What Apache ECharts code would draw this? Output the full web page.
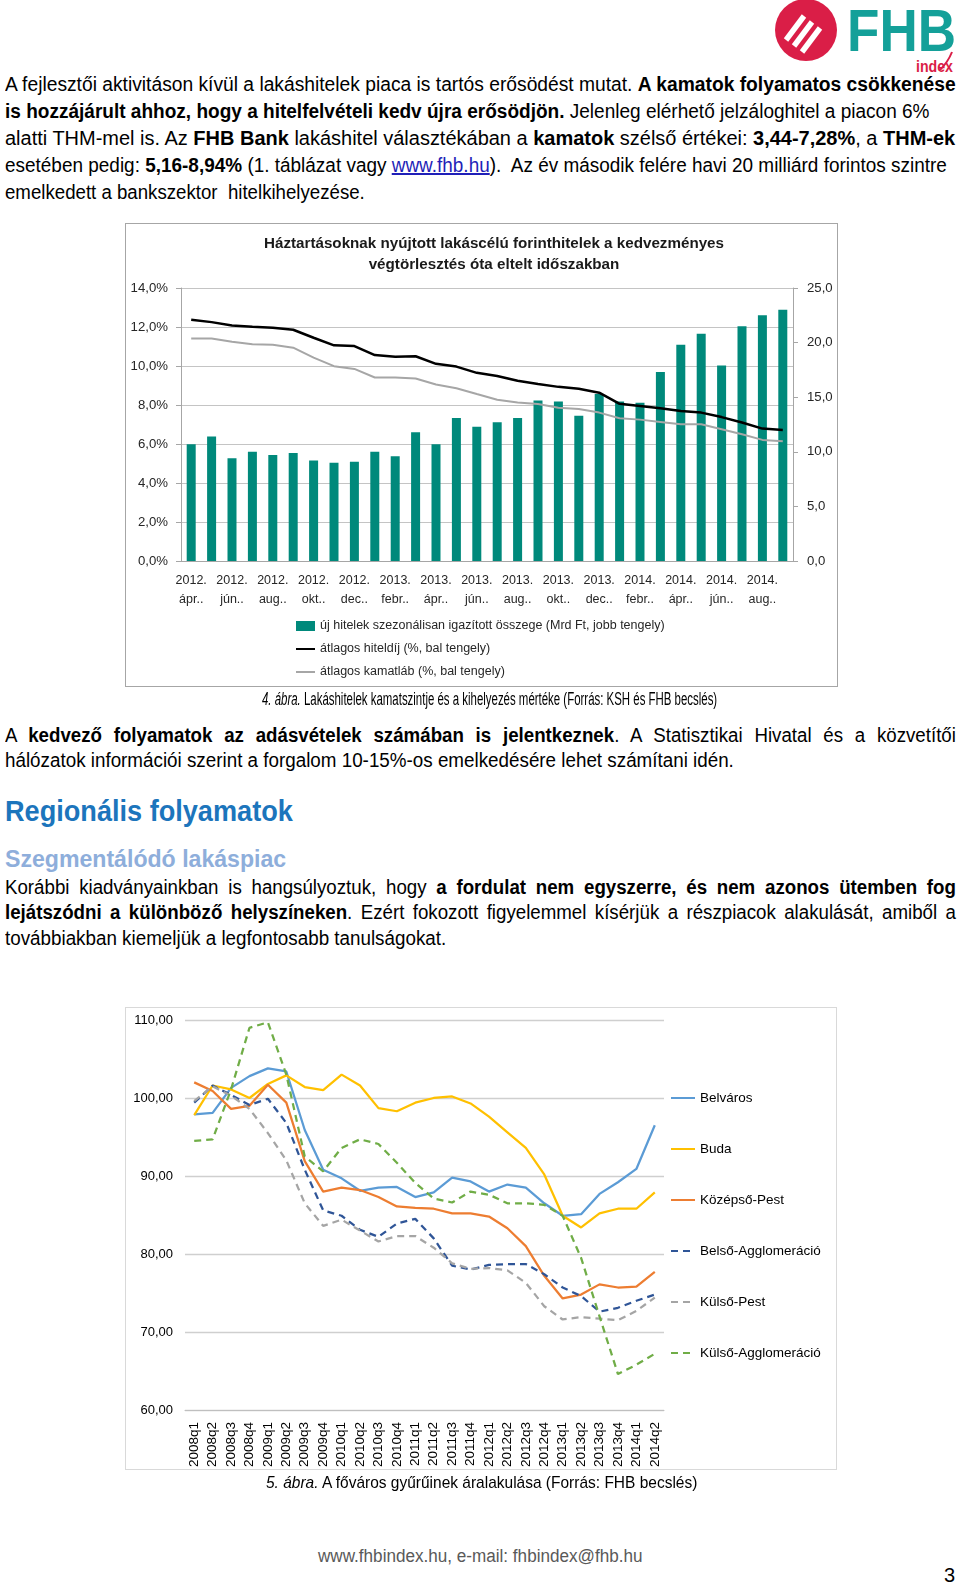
<!DOCTYPE html>
<html><head><meta charset="utf-8">
<script src="https://cdn.jsdelivr.net/npm/echarts@6/dist/echarts.min.js"></script>
<style>
html,body{margin:0;padding:0;background:#fff;}
body{width:960px;height:1592px;position:relative;overflow:hidden;font-family:'Liberation Sans',Arial,sans-serif;color:#000;}
.ln{position:absolute;left:5px;white-space:nowrap;font-size:20px;line-height:26px;height:26px;transform-origin:0 50%;transform:scaleX(0.935);}
.j{width:1017px;text-align:justify;text-align-last:justify;}
.fit{position:absolute;white-space:nowrap;transform-origin:0 50%;}
a{color:#1f1fb8;text-decoration:underline;}
.box{position:absolute;box-sizing:border-box;}
</style></head>
<body>
<svg style="position:absolute;left:760px;top:0" width="200" height="80" viewBox="0 0 200 80">
  <circle cx="46" cy="30" r="31" fill="#DA1E47"/>
  <g stroke="#fff" stroke-width="5.5" stroke-linecap="butt">
    <line x1="26" y1="40" x2="44" y2="16"/>
    <line x1="34" y1="46" x2="52" y2="22"/>
    <line x1="42" y1="52" x2="60" y2="28"/>
  </g>
  <text x="87" y="51" font-family="Liberation Sans, Arial, sans-serif" font-weight="bold" font-size="60" fill="#14A099" textLength="109" lengthAdjust="spacingAndGlyphs">FHB</text>
  <text x="156" y="72" font-family="Liberation Sans, Arial, sans-serif" font-weight="bold" font-size="16" fill="#DA1E47" textLength="37" lengthAdjust="spacingAndGlyphs">index</text>
  <path d="M180 70 Q188 62 192 52" stroke="#DA1E47" stroke-width="2" fill="none"/>
</svg>

<div class="ln fitw" data-w="951" style="top:71px">A fejlesztői aktivitáson kívül a lakáshitelek piaca is tartós erősödést mutat. <b>A kamatok folyamatos csökkenése</b></div>
<div class="ln fitw" data-w="925" style="top:98px"><b>is hozzájárult ahhoz, hogy a hitelfelvételi kedv újra erősödjön.</b> Jelenleg elérhető jelzáloghitel a piacon 6%</div>
<div class="ln fitw" data-w="950" style="top:125px">alatti THM-mel is. Az <b>FHB Bank</b> lakáshitel választékában a <b>kamatok</b> szélső értékei: <b>3,44-7,28%</b>, a <b>THM-ek</b></div>
<div class="ln fitw" data-w="942" style="top:152px">esetében pedig: <b>5,16-8,94%</b> (1. táblázat vagy <a>www.fhb.hu</a>).&nbsp; Az év második felére havi 20 milliárd forintos szintre</div>
<div class="ln fitw" data-w="360" style="top:179px">emelkedett a bankszektor&nbsp; hitelkihelyezése.</div>

<div id="c1" class="box" style="left:125px;top:223px;width:713px;height:464px;"></div>
<div class="box" style="left:125px;top:223px;width:713px;height:464px;border:1px solid #A6A6A6;pointer-events:none;"></div>

<div class="fit fitw" data-w="455" style="left:262px;top:688px;font-size:18px;line-height:22px;"><i>4. ábra.</i> Lakáshitelek kamatszintje és a kihelyezés mértéke (Forrás: KSH és FHB becslés)</div>

<div class="ln j" style="top:722px">A <b>kedvező folyamatok az adásvételek számában is jelentkeznek</b>. A Statisztikai Hivatal és a közvetítői</div>
<div class="ln fitw" data-w="729" style="top:747px">hálózatok információi szerint a forgalom 10-15%-os emelkedésére lehet számítani idén.</div>

<div class="ln fitw" data-w="288" style="top:795px;height:32px;line-height:32px;font-size:29px;font-weight:bold;color:#1C75BC;">Regionális folyamatok</div>
<div class="ln fitw" data-w="281" style="top:845px;height:28px;line-height:28px;font-size:24.5px;font-weight:bold;color:#8EAEDB;">Szegmentálódó lakáspiac</div>

<div class="ln j" style="top:874px">Korábbi kiadványainkban is hangsúlyoztuk, hogy <b>a fordulat nem egyszerre, és nem azonos ütemben fog</b></div>
<div class="ln j" style="top:899px"><b>lejátszódni a különböző helyszíneken</b>. Ezért fokozott figyelemmel kísérjük a részpiacok alakulását, amiből a</div>
<div class="ln fitw" data-w="441" style="top:925px">továbbiakban kiemeljük a legfontosabb tanulságokat.</div>

<div id="c2" class="box" style="left:125px;top:1007px;width:712px;height:463px;"></div>
<div class="box" style="left:125px;top:1007px;width:712px;height:463px;border:1px solid #D9D9D9;pointer-events:none;"></div>

<div class="fit fitw" data-w="431" style="left:266px;top:1472px;font-size:17px;line-height:22px;"><i>5. ábra.</i> A főváros gyűrűinek áralakulása (Forrás: FHB becslés)</div>

<div class="fit fitw" data-w="324" style="left:318px;top:1545px;font-size:18px;line-height:22px;color:#595959;">www.fhbindex.hu, e-mail: fhbindex@fhb.hu</div>
<div class="fit" style="left:944px;top:1563px;font-size:20px;line-height:24px;color:#000;">3</div>

<script>
// ---------- Chart 1 data ----------
const months1 = ['2012. ápr.','2012. máj.','2012. jún.','2012. júl.','2012. aug.','2012. szept.','2012. okt.','2012. nov.','2012. dec.',
  '2013. jan.','2013. febr.','2013. márc.','2013. ápr.','2013. máj.','2013. jún.','2013. júl.','2013. aug.','2013. szept.','2013. okt.','2013. nov.','2013. dec.',
  '2014. jan.','2014. febr.','2014. márc.','2014. ápr.','2014. máj.','2014. jún.','2014. júl.','2014. aug.','2014. szept.'];
const ujHitelek = [10.7,11.4,9.4,10.0,9.7,9.9,9.2,9.0,9.1,10.0,9.6,11.8,10.7,13.1,12.3,12.7,13.1,14.7,14.6,13.3,15.3,14.6,14.5,17.3,19.8,20.8,17.9,21.5,22.5,23.0];
const hiteldij = [12.37,12.25,12.08,12.01,11.96,11.86,11.45,11.06,11.02,10.56,10.48,10.50,10.11,9.97,9.65,9.49,9.24,9.08,8.93,8.83,8.63,8.06,7.95,7.83,7.69,7.61,7.38,7.10,6.79,6.72];
const kamatlab = [11.41,11.41,11.24,11.11,11.09,10.94,10.43,9.99,9.85,9.41,9.41,9.36,9.05,8.86,8.56,8.27,8.13,8.05,7.86,7.79,7.61,7.32,7.25,7.13,7.01,7.01,6.76,6.50,6.21,6.14];
const name1 = 'új hitelek szezonálisan igazított összege (Mrd Ft, jobb tengely)';
const name2 = 'átlagos hiteldíj (%, bal tengely)';
const name3 = 'átlagos kamatláb (%, bal tengely)';
const title1 = 'Háztartásoknak nyújtott lakáscélú forinthitelek a kedvezményes\nvégtörlesztés óta eltelt időszakban';

// ---------- Chart 2 data ----------
const quarters = ['2008q1','2008q2','2008q3','2008q4','2009q1','2009q2','2009q3','2009q4','2010q1','2010q2','2010q3','2010q4',
  '2011q1','2011q2','2011q3','2011q4','2012q1','2012q2','2012q3','2012q4','2013q1','2013q2','2013q3','2013q4','2014q1','2014q2'];
const belvaros = [97.9,98.1,101.3,102.8,103.8,103.4,95.9,90.8,89.7,88.1,88.5,88.6,87.3,87.9,89.8,89.3,88.0,88.9,88.5,86.5,84.9,85.1,87.7,89.2,90.9,96.5];
const buda = [97.8,101.6,101.1,100.0,101.8,102.9,101.4,101.0,103.0,101.6,98.7,98.3,99.4,100.0,100.2,99.3,97.6,95.6,93.6,90.2,84.9,83.4,85.2,85.8,85.8,87.9];
const kozepsoPest = [102.0,100.9,98.6,99.0,101.7,99.4,91.9,88.0,88.5,88.2,87.3,86.1,85.9,85.8,85.2,85.2,84.8,83.3,81.0,77.2,74.3,74.8,76.1,75.7,75.8,77.7];
const belsoAggl = [99.4,101.6,100.4,99.1,99.9,96.8,90.8,85.6,84.9,83.1,82.2,83.9,84.5,82.0,78.5,78.0,78.6,78.7,78.7,77.4,75.7,74.6,72.6,73.1,74.0,74.8];
const kulsoPest = [99.6,101.5,100.3,98.6,95.5,92.0,86.5,83.6,84.4,83.0,81.6,82.3,82.3,80.8,78.8,78.1,78.2,77.9,76.3,73.3,71.6,71.9,71.7,71.5,72.7,74.4];
const kulsoAggl = [94.5,94.7,101.1,109.0,109.7,103.0,92.5,90.6,93.6,94.7,94.1,91.7,89.1,87.1,86.6,88.0,87.6,86.5,86.5,86.3,84.9,79.5,72.0,64.6,65.8,67.2];

const SANS = "'Liberation Sans',Arial,sans-serif";
const fmtComma = (v, d) => v.toFixed(d).replace('.', ',');
const noDot = {opacity: 0};

const c1 = echarts.init(document.getElementById('c1'));
c1.setOption({
  animation: false,
  textStyle: {fontFamily: SANS},
  title: {text: title1, left: 364, top: 5, textAlign: 'center',
    textStyle: {fontFamily: SANS, fontSize: 15.2, fontWeight: 'bold', lineHeight: 21.5, color: '#1a1a1a'}},
  grid: {left: 56, top: 65, width: 612, height: 273},
  legend: {orient: 'vertical', left: 170, top: 395, padding: 0, itemWidth: 19, itemHeight: 10, itemGap: 7,
    textStyle: {fontFamily: SANS, fontSize: 12.5, lineHeight: 16, color: '#262626'},
    data: [{name: name1, icon: 'rect'}, {name: name2, itemStyle: noDot}, {name: name3, itemStyle: noDot}]},
  xAxis: {type: 'category', data: months1, boundaryGap: true,
    axisLine: {lineStyle: {color: '#A6A6A6'}},
    axisTick: {interval: 1, length: 5, lineStyle: {color: '#A6A6A6'}},
    axisLabel: {interval: 1, margin: 10, fontSize: 12.5, lineHeight: 19, color: '#262626', fontFamily: SANS,
      formatter: v => v.replace(' ', '\n') + '.'}},
  yAxis: [
    {type: 'value', min: 0, max: 14, interval: 2, position: 'left',
      axisLine: {show: true, lineStyle: {color: '#A6A6A6'}},
      axisTick: {show: true, length: 5, lineStyle: {color: '#A6A6A6'}},
      splitLine: {lineStyle: {color: '#C4C4C4'}},
      axisLabel: {margin: 13, fontSize: 13.2, color: '#262626', fontFamily: SANS, formatter: v => fmtComma(v, 1) + '%'}},
    {type: 'value', min: 0, max: 25, interval: 5, position: 'right',
      axisLine: {show: true, lineStyle: {color: '#A6A6A6'}},
      axisTick: {show: true, length: 5, lineStyle: {color: '#A6A6A6'}},
      splitLine: {show: false},
      axisLabel: {margin: 14, fontSize: 13.2, color: '#262626', fontFamily: SANS, formatter: v => fmtComma(v, 1)}}
  ],
  series: [
    {type: 'bar', name: name1, yAxisIndex: 1, data: ujHitelek, barWidth: 9, itemStyle: {color: '#00897B'}},
    {type: 'line', name: name2, yAxisIndex: 0, data: hiteldij, symbol: 'none', itemStyle: {color: '#000'}, lineStyle: {color: '#000', width: 2.5}},
    {type: 'line', name: name3, yAxisIndex: 0, data: kamatlab, symbol: 'none', itemStyle: {color: '#A6A6A6'}, lineStyle: {color: '#A6A6A6', width: 2}}
  ]
});

const c2 = echarts.init(document.getElementById('c2'));
const dash = [7, 5];
const mk = (name, data, color, type) => ({type: 'line', name, data, symbol: 'none',
  itemStyle: {color}, lineStyle: {color, width: 2.25, type}});
const names2 = ['Belváros','Buda','Középső-Pest','Belső-Agglomeráció','Külső-Pest','Külső-Agglomeráció'];
c2.setOption({
  animation: false,
  textStyle: {fontFamily: SANS},
  grid: {left: 60, top: 13, width: 479, height: 391},
  legend: {orient: 'vertical', left: 545, top: 84, padding: 0, itemWidth: 24, itemHeight: 14, itemGap: 37,
    textStyle: {fontFamily: SANS, fontSize: 13.5, lineHeight: 14, color: '#000'},
    data: names2.map(n => ({name: n, itemStyle: noDot}))},
  xAxis: {type: 'category', data: quarters, boundaryGap: true,
    axisLine: {lineStyle: {color: '#BFBFBF'}},
    axisTick: {length: 5, lineStyle: {color: '#BFBFBF'}},
    axisLabel: {rotate: 90, interval: 0, margin: 12, fontSize: 13.5, color: '#000', fontFamily: SANS}},
  yAxis: {type: 'value', min: 60, max: 110, interval: 10,
    axisLine: {show: false}, axisTick: {show: false},
    splitLine: {lineStyle: {color: '#CFCFCF', width: 1.3}},
    axisLabel: {margin: 12, fontSize: 13, color: '#000', fontFamily: SANS, formatter: v => fmtComma(v, 2)}},
  series: [
    mk(names2[0], belvaros, '#5B9BD5', 'solid'),
    mk(names2[1], buda, '#FFC000', 'solid'),
    mk(names2[2], kozepsoPest, '#ED7D31', 'solid'),
    mk(names2[3], belsoAggl, '#2F5597', dash),
    mk(names2[4], kulsoPest, '#A5A5A5', dash),
    mk(names2[5], kulsoAggl, '#70AD47', dash)
  ]
});

document.querySelectorAll('.fitw').forEach(el => {
  el.style.transform = 'none';
  const nw = el.scrollWidth;
  el.style.transform = 'scaleX(' + (parseFloat(el.dataset.w) / nw) + ')';
});
</script>
</body></html>
